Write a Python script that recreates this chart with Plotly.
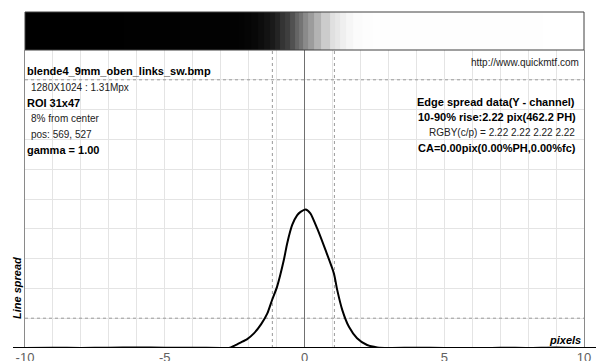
import numpy as np
import plotly.graph_objects as go

# ---- data ----
lsf_x = [-10, -9, -8, -7, -6, -5, -4, -3, -2.7, -2.5, -2.29, -2.05, -1.81, -1.55, -1.33,
         -1.16, -0.98, -0.74, -0.62, -0.44, -0.26, -0.14, 0.04, 0.21, 0.45, 0.75, 1.05,
         1.17, 1.35, 1.59, 1.88, 2.24, 2.6, 3, 4, 5, 6, 7, 8, 9, 10]
lsf_y = [0, 0.001, 0, 0.001, 0.002, 0.001, 0.001, 0, 0.0, 0.008, 0.018, 0.03, 0.049, 0.08, 0.116,
         0.161, 0.206, 0.295, 0.351, 0.413, 0.446, 0.457, 0.465, 0.452, 0.402, 0.329, 0.251,
         0.195, 0.128, 0.071, 0.033, 0.010, 0.002, 0, 0.001, 0, -0.002, 0.001, 0, 0.002, 0]
rise_x = [-1.15, 1.07]          # 10% / 90% edge positions
level_y = [0.1, 0.9]            # 10% / 90% levels
x_ticks = [-10, -5, 0, 5, 10]

left_texts = [("blende4_9mm_oben_links_sw.bmp", True), ("1280X1024 : 1.31Mpx", False),
              ("ROI 31x47", True), ("8% from center", False), ("pos: 569, 527", False),
              ("gamma = 1.00", True)]
right_texts = [("Edge spread data(Y - channel)", True), ("10-90% rise:2.22 pix(462.2 PH)", True),
               ("RGBY(c/p) = 2.22 2.22 2.22 2.22", False), ("CA=0.00pix(0.00%PH,0.00%fc)", True)]
url_text = "http://www.quickmtf.com"

# ---- layout helpers (pixel -> paper) ----
W, H = 598, 361
L, R, T, B = 25, 14, 12, 13
PW, PH = W - L - R, H - T - B
def px(x): return (x - L) / PW
def py(y): return (H - B - y) / PH
plot_top = 50
main_frac = (H - B - plot_top) / PH

FONT = "Liberation Sans, Arial, sans-serif"

fig = go.Figure()

# edge gradient bar (trapezoid cumulative of the line spread)
xa = np.array(lsf_x, dtype=float)
ya = np.clip(np.array(lsf_y, dtype=float), 0, None)
cum = np.concatenate([[0.0], np.cumsum(0.5 * (ya[1:] + ya[:-1]) * np.diff(xa))])
cum = (cum - cum.min()) / (cum.max() - cum.min())
fig.add_trace(go.Heatmap(x=lsf_x, z=[cum.tolist()], y=[0], xaxis="x2", yaxis="y2",
                         colorscale=[[0, "#000000"], [0.1, "#1e1e1e"], [0.5, "#888888"],
                                     [0.9, "#e2e2e2"], [1, "#ffffff"]],
                         zmin=0, zmax=1, showscale=False, zsmooth=False, hoverinfo="skip"))

# dashed reference lines
for xv in rise_x:
    fig.add_trace(go.Scatter(x=[xv, xv], y=[0, 1], mode="lines",
                             line=dict(color="#9a9a9a", width=1, dash="3px,3px"),
                             hoverinfo="skip", showlegend=False))
for yv in level_y:
    fig.add_trace(go.Scatter(x=[-10, 10], y=[yv, yv], mode="lines",
                             line=dict(color="#9a9a9a", width=1, dash="3px,3px"),
                             hoverinfo="skip", showlegend=False))
# center line
fig.add_trace(go.Scatter(x=[0, 0], y=[0, 1], mode="lines",
                         line=dict(color="#707070", width=1), hoverinfo="skip", showlegend=False))

# line spread curve
fig.add_trace(go.Scatter(x=lsf_x, y=lsf_y, mode="lines",
                         line=dict(color="black", width=2, shape="spline", smoothing=0.6),
                         showlegend=False))

fig.update_layout(
    width=W, height=H, margin=dict(l=L, r=R, t=T, b=B, autoexpand=False),
    paper_bgcolor="white", plot_bgcolor="white",
    font=dict(family=FONT, size=11, color="black"),
    xaxis=dict(range=[-10, 10], domain=[0, 1], tickvals=x_ticks, ticktext=[str(v) for v in x_ticks],
               showgrid=True, gridcolor="#e4e4e4", gridwidth=1,
               minor=dict(dtick=1, tick0=0, showgrid=True, gridcolor="#e4e4e4"),
               zeroline=False, showline=False, ticks="", automargin=False,
               tickfont=dict(size=13, color="#606060", family=FONT), anchor="y"),
    yaxis=dict(range=[0, 1], domain=[0, main_frac], dtick=0.1, showgrid=True, gridcolor="#e4e4e4",
               showticklabels=False, ticks="", zeroline=False, automargin=False,
               showline=True, linecolor="#8a8a8a", linewidth=1, mirror=True),
    xaxis2=dict(range=[-10, 10], domain=[0, 1], anchor="y2", visible=False),
    yaxis2=dict(domain=[main_frac, 1], anchor="x2", visible=False, range=[-0.5, 0.5]),
)

# bar border and baseline extension
fig.add_shape(type="rect", xref="paper", yref="paper", x0=0, x1=1, y0=main_frac, y1=1,
              line=dict(color="#404040", width=1))
fig.add_shape(type="line", xref="paper", yref="y", x0=px(13), x1=px(596), y0=0, y1=0,
              line=dict(color="black", width=2))

# texts
left_y = [71, 87, 103, 118, 134, 150]
for (txt, bold), yy in zip(left_texts, left_y):
    fig.add_annotation(xref="paper", yref="paper", x=px(25 if bold else 29), y=py(yy),
                       text=f"<b>{txt}</b>" if bold else txt, showarrow=False,
                       xanchor="left", yanchor="middle",
                       font=dict(size=11 if bold else 10, color="black" if bold else "#222"))
right_y = [102, 117, 132, 148]
right_x = [577, 578, 577, 578]
for (txt, bold), yy, xx in zip(right_texts, right_y, right_x):
    fig.add_annotation(xref="paper", yref="paper", x=px(xx), y=py(yy),
                       text=f"<b>{txt}</b>" if bold else txt, showarrow=False,
                       xanchor="right", yanchor="middle",
                       font=dict(size=11 if bold else 10, color="black" if bold else "#222"))
fig.add_annotation(xref="paper", yref="paper", x=px(581), y=py(62), text=url_text,
                   showarrow=False, xanchor="right", yanchor="middle",
                   font=dict(size=10, color="#222"))
fig.add_annotation(xref="paper", yref="paper", x=px(17), y=py(288), text="<b><i>Line spread</i></b>",
                   textangle=-90, showarrow=False, xanchor="center", yanchor="middle",
                   font=dict(size=11))
fig.add_annotation(xref="paper", yref="paper", x=px(583), y=py(340), text="<b><i>pixels</i></b>",
                   showarrow=False, xanchor="right", yanchor="middle", font=dict(size=11))

fig.write_html("out.html", config={"displayModeBar": False},
               post_script="document.body.style.margin='0';")
